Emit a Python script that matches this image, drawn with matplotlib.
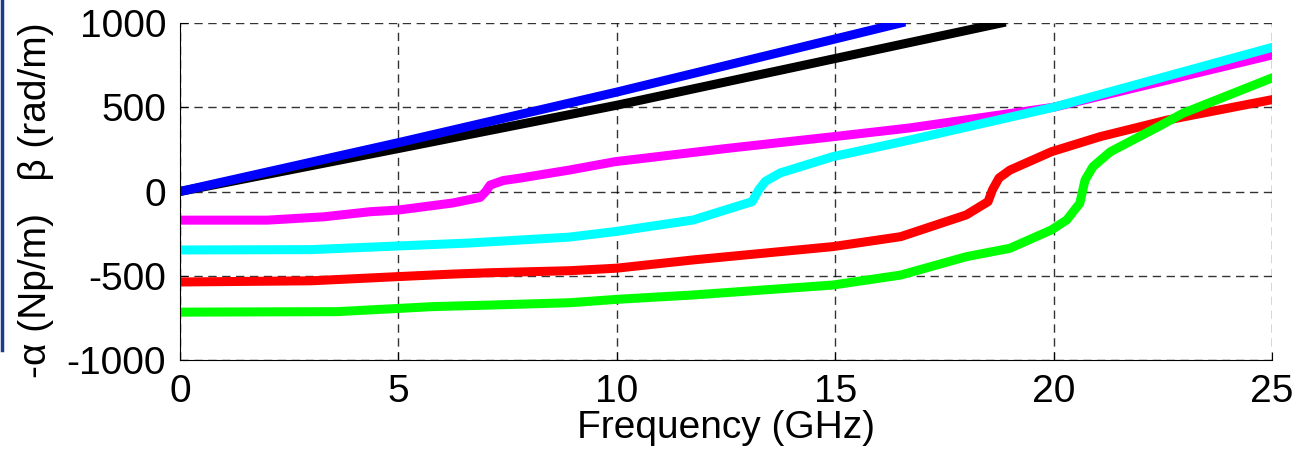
import numpy as np
import matplotlib.pyplot as plt
from matplotlib.lines import Line2D

# frequency (GHz) / value pairs
f_blue = [0, 5, 10, 16.5]
v_blue = [0, 290, 590, 1000]
f_black = [0, 5, 10, 18.8]
v_black = [0, 255, 512, 1000]

f_mag = [0, 2.0, 3.3, 4.35, 5.0, 6.25, 6.87, 7.0, 7.1, 7.4, 7.8, 8.93, 9.96, 12.5, 14.95,
         16.7, 20.0, 25.0]
v_mag = [-170, -170, -150, -120, -110, -68, -35, 0, 38, 65, 80, 128, 177, 255, 325,
         377, 500, 810]

f_cyan = [0, 3.0, 4.65, 6.6, 8.9, 9.96, 11.75, 13.1, 13.25, 13.4, 13.74, 14.95, 16.7,
          20.0, 25.0]
v_cyan = [-347, -345, -327, -306, -271, -238, -169, -60, 10, 60, 110, 207, 305, 500, 855]

f_red = [0, 3.0, 5.0, 6.25, 7.1, 8.93, 10.0, 11.75, 14.95, 16.5, 18.0, 18.5, 18.6, 18.75,
         19.0, 19.95, 21.06, 22.6, 25.0]
v_red = [-537, -530, -505, -490, -482, -470, -455, -406, -327, -268, -139, -60, 10, 80,
         127, 236, 325, 424, 545]

f_green = [0, 3.6, 5.8, 7.1, 8.93, 10.0, 11.75, 14.95, 16.5, 18.0, 19.0, 19.95, 20.3,
           20.6, 20.72, 20.9, 21.3, 22.4, 22.96, 25.0]
v_green = [-716, -713, -683, -674, -660, -640, -614, -555, -496, -387, -337, -228, -169,
           -70, 68, 147, 236, 385, 464, 674]

plt.rcParams['font.family'] = ['Liberation Sans', 'DejaVu Sans']
plt.rcParams['axes.unicode_minus'] = False

fig = plt.figure(figsize=(13.12, 4.57), dpi=100)
ax = fig.add_axes([180/1312, 1 - 360/457, 1092/1312, 337/457])

lw = 6.5
ax.plot(f_black, v_black, color='black', lw=lw)
ax.plot(f_blue, v_blue, color='blue', lw=lw)
ax.plot(f_mag, v_mag, color='magenta', lw=lw)
ax.plot(f_cyan, v_cyan, color='cyan', lw=lw)
ax.plot(f_red, v_red, color='red', lw=lw)
ax.plot(f_green, v_green, color='lime', lw=lw)

ax.set_xlim(0, 25)
ax.set_ylim(-1000, 1000)
ax.set_xticks([0, 5, 10, 15, 20, 25])
ax.set_yticks([-1000, -500, 0, 500, 1000])
ax.grid(True, color='black', linestyle=(0, (6, 4)), linewidth=1, alpha=0.8)
ax.spines['top'].set_visible(False)
ax.spines['right'].set_visible(False)
ax.tick_params(direction='in', labelsize=28, length=6, pad=10)
ax.set_xlabel('Frequency (GHz)', fontsize=28, labelpad=0)
ax.set_ylabel('-\u03b1 (Np/m)   \u03b2 (rad/m)', fontsize=28)
ax.yaxis.set_label_coords(-0.115, 0.475)

# cropped frame edge on the far left
fig.add_artist(Line2D([2/1312, 2/1312], [1, 1 - 350/457], transform=fig.transFigure,
                      color='#1f3a8a', lw=2.5))

fig.savefig('out.png', dpi=100)
